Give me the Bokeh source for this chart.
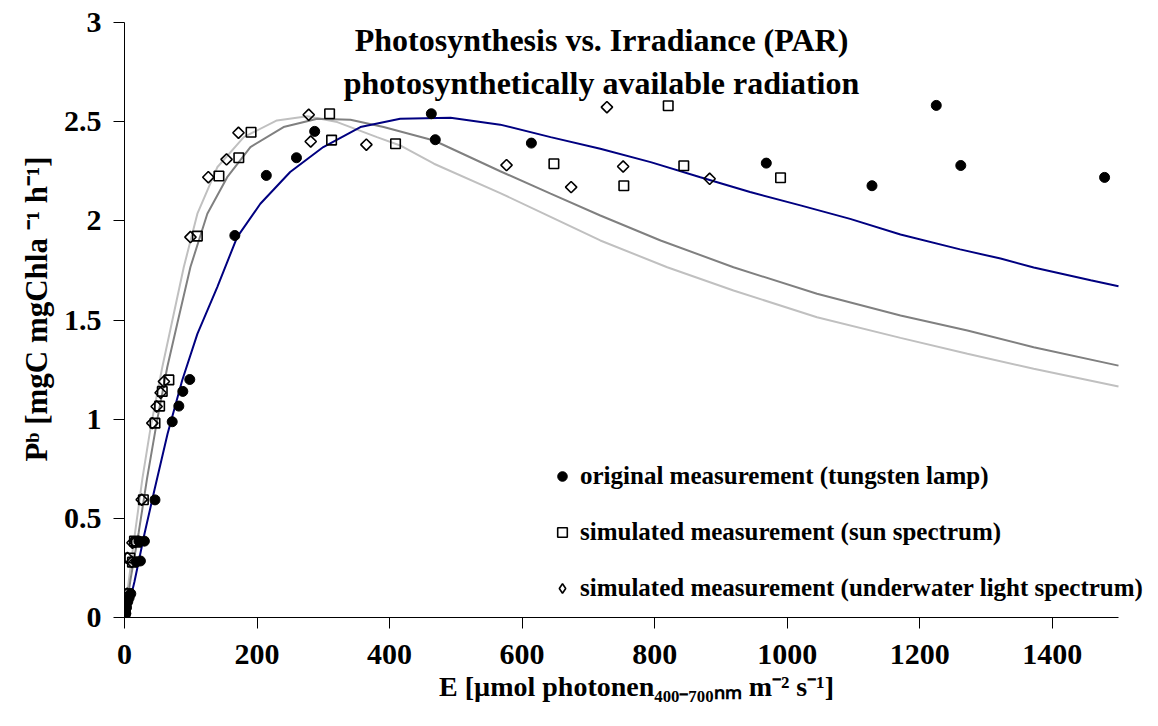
from bokeh.plotting import figure
from bokeh.models import Range1d, FixedTicker, Label, Legend, LegendItem
from bokeh.embed import file_html
from bokeh.resources import INLINE

# ---------------- data ----------------
orig_E = [2, 3, 5, 7, 9.5, 18, 24, 22, 30, 46, 72, 82, 88, 98.5, 166.5, 214, 259.5, 287, 463, 469,
          614, 968.5, 1128, 1225, 1262, 1479]
orig_P = [0.02, 0.05, 0.08, 0.10, 0.12, 0.28, 0.285, 0.385, 0.385, 0.593, 0.987, 1.066, 1.14, 1.20,
          1.926, 2.229, 2.318, 2.451, 2.54, 2.409, 2.392, 2.291, 2.177, 2.582, 2.279, 2.219]

sun_E = [0.5, 1, 2, 3, 5, 8, 12, 15, 18, 28.5, 46, 53, 57, 67, 110, 142.5, 172.5, 191, 309.5, 312.5,
         409, 648, 753.5, 820.5, 844, 990]
sun_P = [0.02, 0.05, 0.08, 0.10, 0.12, 0.30, 0.279, 0.385, 0.38, 0.594, 0.98, 1.066, 1.14, 1.198,
         1.923, 2.226, 2.318, 2.447, 2.54, 2.407, 2.389, 2.288, 2.177, 2.58, 2.278, 2.217]

uw_E = [0.5, 1, 1.5, 2.5, 4, 4.5, 11, 12, 16, 26, 42, 48.5, 54.5, 59.5, 99.5, 126.5, 154, 172, 278,
        281, 365, 576.5, 674, 728, 752.5, 883]
uw_P = [0.02, 0.05, 0.08, 0.10, 0.12, 0.30, 0.28, 0.377, 0.38, 0.594, 0.98, 1.064, 1.133, 1.19,
        1.918, 2.22, 2.31, 2.444, 2.535, 2.40, 2.384, 2.281, 2.17, 2.573, 2.274, 2.212]

# fitted curves
fit_orig_E = [0, 15, 30, 45, 65, 87, 110, 140, 170, 205, 250, 300, 356, 416, 492, 567, 643, 718,
              794, 869, 944, 1020, 1095, 1171, 1261, 1322, 1372, 1458, 1500]
fit_orig_P = [-0.03, 0.18, 0.42, 0.64, 0.926, 1.195, 1.43, 1.666, 1.918, 2.086, 2.246, 2.372, 2.473,
              2.515, 2.52, 2.485, 2.422, 2.363, 2.296, 2.22, 2.145, 2.078, 2.01, 1.931, 1.856, 1.81,
              1.765, 1.70, 1.67]

fit_sun_E = [0, 9, 21.5, 34, 49, 64.5, 79.5, 99.5, 125, 155, 190, 240, 291, 341, 391, 467, 567,
             643, 718, 809, 919, 1045, 1171, 1272, 1372, 1500]
fit_sun_P = [-0.02, 0.19, 0.43, 0.70, 0.99, 1.262, 1.48, 1.767, 2.036, 2.22, 2.372, 2.473, 2.515,
             2.51, 2.473, 2.405, 2.25, 2.137, 2.027, 1.901, 1.766, 1.632, 1.523, 1.447, 1.363, 1.27]

fit_uw_E = [0, 4, 14, 27, 39.5, 57, 69.5, 89.5, 110, 140, 180, 230, 276, 321, 381, 416, 467, 567,
            643, 718, 819, 919, 1045, 1171, 1272, 1372, 1500]
fit_uw_P = [-0.02, 0.12, 0.38, 0.70, 0.96, 1.262, 1.456, 1.767, 2.036, 2.27, 2.422, 2.506, 2.527,
            2.498, 2.422, 2.38, 2.288, 2.14, 2.02, 1.901, 1.766, 1.649, 1.514, 1.41, 1.33, 1.254, 1.165]

x_ticks = [0, 200, 400, 600, 800, 1000, 1200, 1400]
y_ticks = [0, 0.5, 1, 1.5, 2, 2.5, 3]
y_tick_labels = ["0", "0.5", "1", "1.5", "2", "2.5", "3"]

legend_labels = ["original measurement (tungsten lamp)",
                 "simulated measurement (sun spectrum)",
                 "simulated measurement (underwater light spectrum)"]
title_lines = ["Photosynthesis vs. Irradiance (PAR)", "photosynthetically available radiation"]
x_title = "E [µmol photonen₄₀₀₋₇₀₀ₙₘ m⁻² s⁻¹]"
y_title = "Pᵇ [mgC mgChla ⁻¹ h⁻¹]"

# ---------------- layout ----------------
FONT = "Liberation Serif"
W, H = 1150, 718
FL, FR, FT, FB = 124, 1148, 0, 617            # frame edges (canvas px)
X_AXIS_END, Y_AXIS_END = 1500.0, 3.0
AX_L, AX_T = 124, 22                            # axis corner px: x=0 at 124, y=3 at 22
px_per_x = (1118 - AX_L) / X_AXIS_END
px_per_y = (FB - AX_T) / Y_AXIS_END
XMAX = (FR - FL) / px_per_x
YMAX = (FB - FT) / px_per_y


def dx(px):
    return (px - FL) / px_per_x


def dy(py):
    return (FB - py) / px_per_y


p = figure(width=W, height=H, output_backend="svg", toolbar_location=None,
           x_range=Range1d(0, XMAX), y_range=Range1d(0, YMAX),
           min_border_left=FL, min_border_right=W - FR, min_border_top=FT,
           min_border_bottom=H - FB)
p.outline_line_color = None
p.background_fill_color = "white"
p.border_fill_color = "white"
p.grid.visible = False

for ax in (p.xaxis[0], p.yaxis[0]):
    ax.axis_line_color = "black"
    ax.axis_line_width = 1
    ax.major_tick_line_color = "black"
    ax.major_tick_out = 11
    ax.major_tick_in = 0
    ax.minor_tick_out = 0
    ax.minor_tick_in = 0
    ax.major_label_text_font = FONT
    ax.major_label_text_font_style = "bold"
    ax.major_label_text_font_size = "30px"
    ax.major_label_text_color = "black"
    ax.axis_label_text_font = FONT
    ax.axis_label_text_font_style = "bold"
    ax.axis_label_text_color = "black"

p.xaxis.bounds = (0, X_AXIS_END)
p.yaxis.bounds = (0, Y_AXIS_END)
p.xaxis.ticker = FixedTicker(ticks=x_ticks)
p.yaxis.ticker = FixedTicker(ticks=y_ticks)
p.yaxis.major_label_overrides = {t: s for t, s in zip(y_ticks, y_tick_labels)}
p.xaxis.major_label_overrides = {t: str(t) for t in x_ticks}
p.xaxis.major_label_standoff = 16
p.yaxis.major_label_standoff = 12
p.xaxis.axis_label = x_title
p.yaxis.axis_label = y_title
p.xaxis.axis_label_text_font_size = "28px"
p.yaxis.axis_label_text_font_size = "31px"
p.xaxis.axis_label_standoff = 4
p.yaxis.axis_label_standoff = 7

# curves
p.line(fit_uw_E, fit_uw_P, line_color="#c0c0c0", line_width=2)
p.line(fit_sun_E, fit_sun_P, line_color="#808080", line_width=2)
p.line(fit_orig_E, fit_orig_P, line_color="#000080", line_width=2)

# points
r_orig = p.scatter(orig_E, orig_P, marker="circle", size=10, fill_color="black", line_color="black")
r_sun = p.scatter(sun_E, sun_P, marker="square", size=9.5, fill_alpha=0, line_color="black",
                  line_width=1.6)
r_uw = p.scatter(uw_E, uw_P, marker="square", size=8, angle=0.785398, fill_alpha=0,
                 line_color="black", line_width=1.6)
# legend-only key for the diamond series (a single NaN entry: nothing is drawn in the plot)
r_uw_key = p.scatter(x=[float("nan")], y=[float("nan")], marker="diamond", size=12,
                     fill_alpha=0, line_color="black", line_width=1.6)

legend = Legend(items=[LegendItem(label=legend_labels[0], renderers=[r_orig]),
                       LegendItem(label=legend_labels[1], renderers=[r_sun]),
                       LegendItem(label=legend_labels[2], renderers=[r_uw_key])],
                location=(426, 15), glyph_width=24, glyph_height=28, label_height=28,
                spacing=28, padding=0, margin=0, label_standoff=6,
                background_fill_alpha=0, border_line_color=None,
                label_text_font=FONT, label_text_font_style="bold",
                label_text_font_size="25px", label_text_color="black")
p.add_layout(legend)

# title (two centred lines)
for line, base in zip(title_lines, [39, 82]):
    p.add_layout(Label(x=dx(601), y=dy(base), text=line, text_align="center",
                       text_baseline="alphabetic", text_font=FONT, text_font_style="bold",
                       text_font_size="32px", text_color="black"))

open("out.html", "w").write(file_html(p, INLINE))
